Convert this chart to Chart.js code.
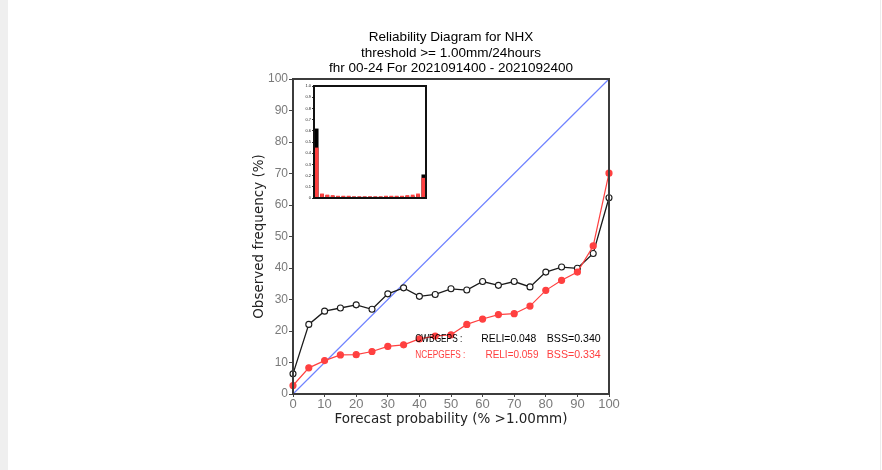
<!DOCTYPE html>
<html><head><meta charset="utf-8">
<script src="https://cdn.jsdelivr.net/npm/chart.js@4/dist/chart.umd.min.js"></script>
<style>
html,body{margin:0;padding:0;background:#fff;}
#wrap{position:relative;width:882px;height:470px;overflow:hidden;background:#fff;}
#strip{position:absolute;left:0;top:0;width:8px;height:470px;background:#efefef;}
#redge{position:absolute;left:880px;top:0;width:1px;height:470px;background:#ececec;}
#main{position:absolute;left:0;top:0;}
#inset{position:absolute;left:290px;top:80px;}
</style></head><body>
<div id="wrap"><div id="strip"></div><div id="redge"></div>
<canvas id="main" width="882" height="470"></canvas>
<canvas id="inset" width="140" height="125"></canvas>
</div>
<script>
// ---- data ----
const titleLines = ["Reliability Diagram for NHX", "threshold >= 1.00mm/24hours", "fhr 00-24 For 2021091400 - 2021092400"];
const xAxisTitle = "Forecast probability (% >1.00mm)";
const yAxisTitle = "Observed frequency (%)";
const probBins = [0, 5, 10, 15, 20, 25, 30, 35, 40, 45, 50, 55, 60, 65, 70, 75, 80, 85, 90, 95, 100];
const cwbObs  = [6.4, 22.1, 26.3, 27.3, 28.3, 26.9, 31.8, 33.7, 31.0, 31.6, 33.4, 33.0, 35.7, 34.5, 35.7, 34.0, 38.7, 40.3, 39.9, 44.6, 62.3];
const ncepObs = [2.7, 8.3, 10.6, 12.4, 12.5, 13.5, 15.1, 15.6, 17.5, 18.4, 18.8, 22.1, 23.8, 25.2, 25.5, 27.9, 32.9, 36.1, 38.7, 47.0, 70.1];
const diagX = [0, 100];
const diagY = [0, 100];
const cwbFreq  = [0.62, 0.035, 0.025, 0.02, 0.015, 0.015, 0.015, 0.012, 0.012, 0.012, 0.012, 0.012, 0.012, 0.015, 0.015, 0.015, 0.015, 0.02, 0.02, 0.03, 0.21];
const ncepFreq = [0.45, 0.04, 0.03, 0.025, 0.02, 0.02, 0.02, 0.015, 0.015, 0.015, 0.015, 0.015, 0.015, 0.02, 0.02, 0.02, 0.02, 0.025, 0.03, 0.04, 0.18];
const cwbLabel  = ["CWBGEPS :", "RELI=0.048", "BSS=0.340"];
const ncepLabel = ["NCEPGEFS :", "RELI=0.059", "BSS=0.334"];

const BLACK = '#1a1a1a', RED = '#ff4040', BLUE = '#7083ff', TICKGRAY = '#7a7a7a';

const toXY = (xs, ys) => xs.map((x, i) => ({x: x, y: ys[i]}));

const framePlugin = {
  id: 'frame',
  afterDatasetsDraw(chart, args, opts) {
    const {ctx, chartArea: a} = chart;
    ctx.save();
    ctx.strokeStyle = opts.color; ctx.lineWidth = opts.width;
    ctx.strokeRect(a.left, a.top, a.right - a.left, a.bottom - a.top);
    ctx.restore();
  }
};

const textPlugin = {
  id: 'texts',
  afterDraw(chart) {
    const {ctx, chartArea: a, scales} = chart;
    const cx = (a.left + a.right) / 2;
    ctx.save();
    ctx.fillStyle = '#000';
    ctx.font = '13.5px "Liberation Sans", Arial, sans-serif';
    ctx.textAlign = 'center'; ctx.textBaseline = 'middle';
    const ty = [37, 53, 68];
    titleLines.forEach((t, i) => ctx.fillText(t, cx, ty[i]));
    // stats labels placed in data coordinates, squeezed to the reference widths
    ctx.font = '11px "Liberation Sans", Arial, sans-serif';
    ctx.textAlign = 'left';
    const xs1 = [38.7, 59.6, 80.3], w1 = [47, 55, 54];
    const xs2 = [38.7, 60.9, 80.3], w2 = [50, 53, 54];
    ctx.fillStyle = '#000';
    cwbLabel.forEach((t, i) => ctx.fillText(t, scales.x.getPixelForValue(xs1[i]), scales.y.getPixelForValue(17.6), w1[i]));
    ctx.fillStyle = RED;
    ncepLabel.forEach((t, i) => ctx.fillText(t, scales.x.getPixelForValue(xs2[i]), scales.y.getPixelForValue(12.5), w2[i]));
    ctx.restore();
  }
};

new Chart(document.getElementById('main'), {
  type: 'scatter',
  data: {
    datasets: [
      { label: 'NCEPGEFS', data: toXY(probBins, ncepObs), showLine: true, borderColor: RED, backgroundColor: RED,
        pointBackgroundColor: RED, pointBorderColor: RED, pointRadius: 3, borderWidth: 1.2, clip: false, order: 1 },
      { label: 'CWBGEPS', data: toXY(probBins, cwbObs), showLine: true, borderColor: BLACK, backgroundColor: '#fff',
        pointBackgroundColor: '#fff', pointBorderColor: BLACK, pointRadius: 3, pointBorderWidth: 1.1, borderWidth: 1.3, clip: false, order: 2 },
      { label: 'perfect', data: toXY(diagX, diagY), showLine: true, borderColor: BLUE, pointRadius: 0, borderWidth: 1.2, clip: false, order: 3 }
    ]
  },
  options: {
    responsive: false, animation: false, devicePixelRatio: 1,
    layout: { padding: { left: 240, right: 273, top: 79, bottom: 36 } },
    plugins: { legend: { display: false }, tooltip: { enabled: false }, title: { display: false }, frame: { color: '#3c3c3c', width: 2 } },
    scales: {
      x: {
        type: 'linear', min: 0, max: 100,
        ticks: { stepSize: 10, color: TICKGRAY, padding: 0, font: { family: '"Liberation Sans", Arial, sans-serif', size: 13 } },
        grid: { drawOnChartArea: false, drawTicks: true, tickLength: 3, color: '#444' },
        border: { display: false },
        title: { display: true, text: xAxisTitle, color: '#222', font: { family: '"DejaVu Sans", sans-serif', size: 13.5 }, padding: { top: 0, bottom: 6 } },
        afterFit(s) { s.height = 40; }
      },
      y: {
        type: 'linear', min: 0, max: 100,
        ticks: { stepSize: 10, color: TICKGRAY, padding: 1, font: { family: '"Liberation Sans", Arial, sans-serif', size: 12 } },
        grid: { drawOnChartArea: false, drawTicks: true, tickLength: 4, color: '#444' },
        border: { display: false },
        title: { display: true, text: yAxisTitle, color: '#222', font: { family: '"DejaVu Sans", sans-serif', size: 13.5 }, padding: { top: 11, bottom: 0 } },
        afterFit(s) { s.width = 53; }
      }
    }
  },
  plugins: [framePlugin, textPlugin]
});

new Chart(document.getElementById('inset'), {
  type: 'bar',
  data: {
    labels: probBins.map(String),
    datasets: [
      { label: 'NCEPGEFS', data: ncepFreq, backgroundColor: RED, grouped: false, barPercentage: 0.7, categoryPercentage: 1, order: 1 },
      { label: 'CWBGEPS', data: cwbFreq, backgroundColor: '#000', grouped: false, barPercentage: 0.7, categoryPercentage: 1, order: 2 }
    ]
  },
  options: {
    responsive: false, animation: false, devicePixelRatio: 1,
    layout: { padding: { left: 0, right: 4, top: 6, bottom: 7 } },
    plugins: { legend: { display: false }, tooltip: { enabled: false }, frame: { color: '#111', width: 2 } },
    scales: {
      x: { type: 'category', offset: true, display: false },
      y: {
        min: 0, max: 1,
        ticks: { stepSize: 0.1, color: '#222', padding: 1, font: { family: '"Liberation Sans", Arial, sans-serif', size: 4 } },
        grid: { drawOnChartArea: false, drawTicks: true, tickLength: 2, color: '#333' },
        border: { display: false },
        afterFit(s) { s.width = 24; }
      }
    }
  },
  plugins: [framePlugin]
});
</script>
</body></html>
